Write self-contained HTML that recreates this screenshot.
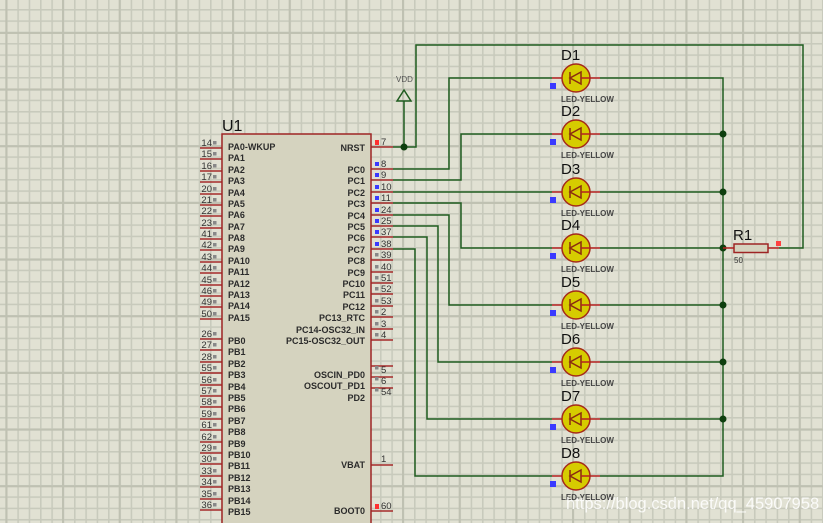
<!DOCTYPE html>
<html><head><meta charset="utf-8"><style>
html,body{margin:0;padding:0;background:#e1e1d3;}
svg{display:block;}
text{font-family:"Liberation Sans",sans-serif;}
.pl{font-size:9px;fill:#2b2b2b;font-weight:bold;}
.pn{font-size:9.5px;fill:#333;}
.dl{font-size:15px;fill:#111;}
.ly{font-size:8px;fill:#444;font-weight:bold;}
</style></head><body>
<svg width="823" height="523" viewBox="0 0 823 523" xmlns="http://www.w3.org/2000/svg">
<defs>
<pattern id="g" x="6" y="9" width="11.333" height="11.333" patternUnits="userSpaceOnUse">
<rect x="0" y="0" width="1.6" height="11.333" fill="#c8cabc"/>
<rect x="0" y="0" width="11.333" height="1.6" fill="#c8cabc"/>
</pattern>
<pattern id="G" x="62" y="32" width="56.667" height="56.667" patternUnits="userSpaceOnUse">
<rect x="0" y="0" width="2" height="56.667" fill="#bfc1b2"/>
<rect x="0" y="0" width="56.667" height="2" fill="#bfc1b2"/>
</pattern>
<g id="led">
<line x1="-24" y1="0" x2="24" y2="0" stroke="#b52020" stroke-width="1.5"/>
<circle cx="0" cy="0" r="14" fill="#d6cc00" stroke="#a52a1a" stroke-width="1.5"/>
<line x1="-6" y1="-6" x2="-6" y2="6" stroke="#8a2a10" stroke-width="1.5"/>
<polygon points="-6,0 5,-6 5,6" fill="none" stroke="#8a2a10" stroke-width="1.5"/>
<line x1="5" y1="0" x2="14" y2="0" stroke="#b52020" stroke-width="1.5"/>
<rect x="-26" y="5" width="6" height="6" fill="#3a3aff"/>
</g>
</defs>
<rect width="823" height="523" fill="#e1e1d3"/>
<rect width="823" height="523" fill="url(#g)"/>
<rect width="823" height="523" fill="url(#G)"/>

<g stroke="#a52a2a" stroke-width="1.5">
<line x1="200" y1="148" x2="222" y2="148"/><line x1="200" y1="159" x2="222" y2="159"/><line x1="200" y1="171" x2="222" y2="171"/><line x1="200" y1="182" x2="222" y2="182"/><line x1="200" y1="194" x2="222" y2="194"/><line x1="200" y1="205" x2="222" y2="205"/><line x1="200" y1="216" x2="222" y2="216"/><line x1="200" y1="228" x2="222" y2="228"/><line x1="200" y1="239" x2="222" y2="239"/><line x1="200" y1="250" x2="222" y2="250"/><line x1="200" y1="262" x2="222" y2="262"/><line x1="200" y1="273" x2="222" y2="273"/><line x1="200" y1="285" x2="222" y2="285"/><line x1="200" y1="296" x2="222" y2="296"/><line x1="200" y1="307" x2="222" y2="307"/><line x1="200" y1="319" x2="222" y2="319"/>
<line x1="200" y1="339" x2="222" y2="339"/><line x1="200" y1="350" x2="222" y2="350"/><line x1="200" y1="362" x2="222" y2="362"/><line x1="200" y1="373" x2="222" y2="373"/><line x1="200" y1="385" x2="222" y2="385"/><line x1="200" y1="396" x2="222" y2="396"/><line x1="200" y1="407" x2="222" y2="407"/><line x1="200" y1="419" x2="222" y2="419"/><line x1="200" y1="430" x2="222" y2="430"/><line x1="200" y1="442" x2="222" y2="442"/><line x1="200" y1="453" x2="222" y2="453"/><line x1="200" y1="464" x2="222" y2="464"/><line x1="200" y1="476" x2="222" y2="476"/><line x1="200" y1="487" x2="222" y2="487"/><line x1="200" y1="499" x2="222" y2="499"/><line x1="200" y1="510" x2="222" y2="510"/>
<line x1="371" y1="147" x2="393" y2="147"/>
<line x1="371" y1="169" x2="393" y2="169"/><line x1="371" y1="180" x2="393" y2="180"/><line x1="371" y1="192" x2="393" y2="192"/><line x1="371" y1="203" x2="393" y2="203"/><line x1="371" y1="215" x2="393" y2="215"/><line x1="371" y1="226" x2="393" y2="226"/><line x1="371" y1="237" x2="393" y2="237"/><line x1="371" y1="249" x2="393" y2="249"/><line x1="371" y1="260" x2="393" y2="260"/><line x1="371" y1="272" x2="393" y2="272"/><line x1="371" y1="283" x2="393" y2="283"/><line x1="371" y1="294" x2="393" y2="294"/><line x1="371" y1="306" x2="393" y2="306"/><line x1="371" y1="317" x2="393" y2="317"/><line x1="371" y1="329" x2="393" y2="329"/><line x1="371" y1="340" x2="393" y2="340"/>
<line x1="371" y1="366" x2="393" y2="366"/><line x1="371" y1="377" x2="393" y2="377"/><line x1="371" y1="388" x2="393" y2="388"/>
<line x1="371" y1="465" x2="393" y2="465"/><line x1="371" y1="511" x2="393" y2="511"/>
</g>
<rect x="222" y="134" width="149" height="392" fill="#d5d3bf" stroke="#9e2424" stroke-width="1.5"/>
<text x="222" y="131" class="dl" style="font-size:16px">U1</text>

<g fill="#888">
<rect x="213" y="141" width="3.5" height="3.5"/><rect x="213" y="152" width="3.5" height="3.5"/><rect x="213" y="164" width="3.5" height="3.5"/><rect x="213" y="175" width="3.5" height="3.5"/><rect x="213" y="187" width="3.5" height="3.5"/><rect x="213" y="198" width="3.5" height="3.5"/><rect x="213" y="209" width="3.5" height="3.5"/><rect x="213" y="221" width="3.5" height="3.5"/><rect x="213" y="232" width="3.5" height="3.5"/><rect x="213" y="243" width="3.5" height="3.5"/><rect x="213" y="255" width="3.5" height="3.5"/><rect x="213" y="266" width="3.5" height="3.5"/><rect x="213" y="278" width="3.5" height="3.5"/><rect x="213" y="289" width="3.5" height="3.5"/><rect x="213" y="300" width="3.5" height="3.5"/><rect x="213" y="312" width="3.5" height="3.5"/>
<rect x="213" y="332" width="3.5" height="3.5"/><rect x="213" y="343" width="3.5" height="3.5"/><rect x="213" y="355" width="3.5" height="3.5"/><rect x="213" y="366" width="3.5" height="3.5"/><rect x="213" y="378" width="3.5" height="3.5"/><rect x="213" y="389" width="3.5" height="3.5"/><rect x="213" y="400" width="3.5" height="3.5"/><rect x="213" y="412" width="3.5" height="3.5"/><rect x="213" y="423" width="3.5" height="3.5"/><rect x="213" y="435" width="3.5" height="3.5"/><rect x="213" y="446" width="3.5" height="3.5"/><rect x="213" y="457" width="3.5" height="3.5"/><rect x="213" y="469" width="3.5" height="3.5"/><rect x="213" y="480" width="3.5" height="3.5"/><rect x="213" y="492" width="3.5" height="3.5"/><rect x="213" y="503" width="3.5" height="3.5"/>
</g>
<g class="pn" text-anchor="end">
<text x="212" y="146">14</text><text x="212" y="157">15</text><text x="212" y="169">16</text><text x="212" y="180">17</text><text x="212" y="192">20</text><text x="212" y="203">21</text><text x="212" y="214">22</text><text x="212" y="226">23</text><text x="212" y="237">41</text><text x="212" y="248">42</text><text x="212" y="260">43</text><text x="212" y="271">44</text><text x="212" y="283">45</text><text x="212" y="294">46</text><text x="212" y="305">49</text><text x="212" y="317">50</text>
<text x="212" y="337">26</text><text x="212" y="348">27</text><text x="212" y="360">28</text><text x="212" y="371">55</text><text x="212" y="383">56</text><text x="212" y="394">57</text><text x="212" y="405">58</text><text x="212" y="417">59</text><text x="212" y="428">61</text><text x="212" y="440">62</text><text x="212" y="451">29</text><text x="212" y="462">30</text><text x="212" y="474">33</text><text x="212" y="485">34</text><text x="212" y="497">35</text><text x="212" y="508">36</text>
</g>
<g class="pl">
<text x="228" y="150">PA0-WKUP</text><text x="228" y="161">PA1</text><text x="228" y="173">PA2</text><text x="228" y="184">PA3</text><text x="228" y="196">PA4</text><text x="228" y="207">PA5</text><text x="228" y="218">PA6</text><text x="228" y="230">PA7</text><text x="228" y="241">PA8</text><text x="228" y="252">PA9</text><text x="228" y="264">PA10</text><text x="228" y="275">PA11</text><text x="228" y="287">PA12</text><text x="228" y="298">PA13</text><text x="228" y="309">PA14</text><text x="228" y="321">PA15</text>
<text x="228" y="344">PB0</text><text x="228" y="355">PB1</text><text x="228" y="367">PB2</text><text x="228" y="378">PB3</text><text x="228" y="390">PB4</text><text x="228" y="401">PB5</text><text x="228" y="412">PB6</text><text x="228" y="424">PB7</text><text x="228" y="435">PB8</text><text x="228" y="447">PB9</text><text x="228" y="458">PB10</text><text x="228" y="469">PB11</text><text x="228" y="481">PB12</text><text x="228" y="492">PB13</text><text x="228" y="504">PB14</text><text x="228" y="515">PB15</text>
</g>
<g class="pl" text-anchor="end">
<text x="365" y="151">NRST</text>
<text x="365" y="173">PC0</text><text x="365" y="184">PC1</text><text x="365" y="196">PC2</text><text x="365" y="207">PC3</text><text x="365" y="219">PC4</text><text x="365" y="230">PC5</text><text x="365" y="241">PC6</text><text x="365" y="253">PC7</text><text x="365" y="264">PC8</text><text x="365" y="276">PC9</text><text x="365" y="287">PC10</text><text x="365" y="298">PC11</text><text x="365" y="310">PC12</text><text x="365" y="321">PC13_RTC</text><text x="365" y="333">PC14-OSC32_IN</text><text x="365" y="344">PC15-OSC32_OUT</text>
<text x="365" y="378">OSCIN_PD0</text><text x="365" y="389">OSCOUT_PD1</text><text x="365" y="401">PD2</text>
<text x="365" y="468">VBAT</text><text x="365" y="514">BOOT0</text>
</g>
<rect x="375" y="140" width="4" height="5" fill="#ff3030"/>
<rect x="375" y="504" width="4" height="5" fill="#ff3030"/>
<g fill="#3a3aff">
<rect x="375" y="162" width="4" height="4"/><rect x="375" y="173" width="4" height="4"/><rect x="375" y="185" width="4" height="4"/><rect x="375" y="196" width="4" height="4"/><rect x="375" y="208" width="4" height="4"/><rect x="375" y="219" width="4" height="4"/><rect x="375" y="230" width="4" height="4"/><rect x="375" y="242" width="4" height="4"/>
</g>
<g fill="#888">
<rect x="375" y="253" width="3.5" height="3.5"/><rect x="375" y="265" width="3.5" height="3.5"/><rect x="375" y="276" width="3.5" height="3.5"/><rect x="375" y="287" width="3.5" height="3.5"/><rect x="375" y="299" width="3.5" height="3.5"/><rect x="375" y="310" width="3.5" height="3.5"/><rect x="375" y="322" width="3.5" height="3.5"/><rect x="375" y="333" width="3.5" height="3.5"/>
<rect x="375" y="366" width="3.5" height="3.5"/><rect x="375" y="377" width="3.5" height="3.5"/><rect x="375" y="388" width="3.5" height="3.5"/>
</g>
<g class="pn">
<text x="381" y="145">7</text>
<text x="381" y="167">8</text><text x="381" y="178">9</text><text x="381" y="190">10</text><text x="381" y="201">11</text><text x="381" y="213">24</text><text x="381" y="224">25</text><text x="381" y="235">37</text><text x="381" y="247">38</text><text x="381" y="258">39</text><text x="381" y="270">40</text><text x="381" y="281">51</text><text x="381" y="292">52</text><text x="381" y="304">53</text><text x="381" y="315">2</text><text x="381" y="327">3</text><text x="381" y="338">4</text>
<text x="381" y="373">5</text><text x="381" y="384">6</text><text x="381" y="395">54</text>
<text x="381" y="462">1</text><text x="381" y="509">60</text>
</g>

<g stroke="#1f5c1f" stroke-width="1.5" fill="none">
<polyline points="393,147 416,147 416,45 803,45 803,248 779,248"/>
<line x1="404" y1="147" x2="404" y2="101"/>
<polyline points="393,169 449,169 449,78 552,78"/>
<polyline points="393,180 461,180 461,134 552,134"/>
<polyline points="393,192 552,192"/>
<polyline points="393,203 461,203 461,248 552,248"/>
<polyline points="393,215 449,215 449,305 552,305"/>
<polyline points="393,226 438,226 438,362 552,362"/>
<polyline points="393,237 427,237 427,419 552,419"/>
<polyline points="393,249 415,249 415,476 552,476"/>
<polyline points="600,78 723,78 723,476 600,476"/>
<line x1="600" y1="134" x2="723" y2="134"/><line x1="600" y1="192" x2="723" y2="192"/><line x1="600" y1="248" x2="723" y2="248"/><line x1="600" y1="305" x2="723" y2="305"/><line x1="600" y1="362" x2="723" y2="362"/><line x1="600" y1="419" x2="723" y2="419"/>
</g>
<g fill="#0e3e0e">
<circle cx="404" cy="147" r="3.5"/>
<circle cx="723" cy="134" r="3.5"/><circle cx="723" cy="192" r="3.5"/><circle cx="723" cy="248" r="3.5"/><circle cx="723" cy="305" r="3.5"/><circle cx="723" cy="362" r="3.5"/><circle cx="723" cy="419" r="3.5"/>
</g>
<polygon points="404,90 397,101 411,101" fill="none" stroke="#1f5c1f" stroke-width="1.5"/>
<text x="396" y="82" class="pn" style="font-size:8px;fill:#555">VDD</text>

<use href="#led" x="576" y="78"/><use href="#led" x="576" y="134"/><use href="#led" x="576" y="192"/><use href="#led" x="576" y="248"/><use href="#led" x="576" y="305"/><use href="#led" x="576" y="362"/><use href="#led" x="576" y="419"/><use href="#led" x="576" y="476"/>
<g class="dl">
<text x="561" y="60">D1</text><text x="561" y="116">D2</text><text x="561" y="174">D3</text><text x="561" y="230">D4</text><text x="561" y="287">D5</text><text x="561" y="344">D6</text><text x="561" y="401">D7</text><text x="561" y="458">D8</text>
</g>
<g class="ly">
<text x="561" y="102">LED-YELLOW</text><text x="561" y="158">LED-YELLOW</text><text x="561" y="216">LED-YELLOW</text><text x="561" y="272">LED-YELLOW</text><text x="561" y="329">LED-YELLOW</text><text x="561" y="386">LED-YELLOW</text><text x="561" y="443">LED-YELLOW</text><text x="561" y="500">LED-YELLOW</text>
</g>

<line x1="723" y1="248" x2="779" y2="248" stroke="#b52020" stroke-width="1.5"/>
<rect x="734" y="244" width="34" height="8.5" fill="#d5d3bf" stroke="#9e2424" stroke-width="1.5"/>
<rect x="776" y="241" width="5" height="5" fill="#ff4040"/>
<text x="733" y="240" class="dl">R1</text>
<text x="734" y="263" class="pn" style="font-size:8px">50</text>

<text x="566" y="509" style="font-size:16.5px;fill:#ffffff;fill-opacity:0.85">https://blog.csdn.net/qq_45907958</text>
</svg>
</body></html>
